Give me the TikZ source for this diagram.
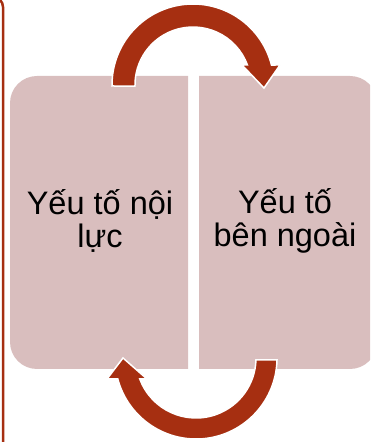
\documentclass[tikz,border=0pt]{standalone}
\usepackage{fontspec}
\setmainfont{Liberation Sans}
\definecolor{arrowred}{RGB}{166,47,17}
\definecolor{boxpink}{RGB}{217,190,190}
\tikzset{
  boxshape/.style={fill=boxpink},
  arrowshape/.style={fill=arrowred, draw=white, line width=1.5pt, line join=miter},
  label/.style={font=\fontsize{32.5}{33}\selectfont, align=center, text=black, inner sep=0pt},
  sideline/.style={draw=arrowred, line width=2.5pt}
}
\begin{document}
\begin{tikzpicture}[x=1pt,y=1pt]
\useasboundingbox (0,0) rectangle (370,442);
\clip (0,0) rectangle (370,442);
% left frame line
\draw[sideline] (-30,445) -- (-7,445) arc[start angle=90,end angle=0,radius=10] -- (3,-10);
% boxes
\path[boxshape] (188,73) -- (37,73) arc[start angle=270,end angle=180,radius=27]
  -- (10,339) arc[start angle=180,end angle=90,radius=27] -- (188,366) -- cycle;
\path[boxshape] (199,73) -- (350,73) arc[start angle=-90,end angle=0,radius=27]
  -- (377,339) arc[start angle=0,end angle=90,radius=27] -- (199,366) -- cycle;
% top arrow
\path[arrowshape] (112,356) arc[start angle=180.7,end angle=14.3,radius=81]
  -- (280,377) -- (264,354) -- (242,377) -- (247.4,377)
  arc[start angle=20.2,end angle=181,radius=58] -- cycle;
% bottom arrow
\path[arrowshape] (277,82) arc[start angle=-1.4,end angle=-165,radius=81]
  -- (107,63) -- (123,84) -- (147,63) -- (139.8,63)
  arc[start angle=-159.5,end angle=-1.9,radius=60] -- cycle;
% texts
\node[label] (inner) at (100,221) {Yếu tố nội\\lực};
\node[label] (outer) at (285,221) {Yếu tố\\bên ngoài};
\end{tikzpicture}
\end{document}
